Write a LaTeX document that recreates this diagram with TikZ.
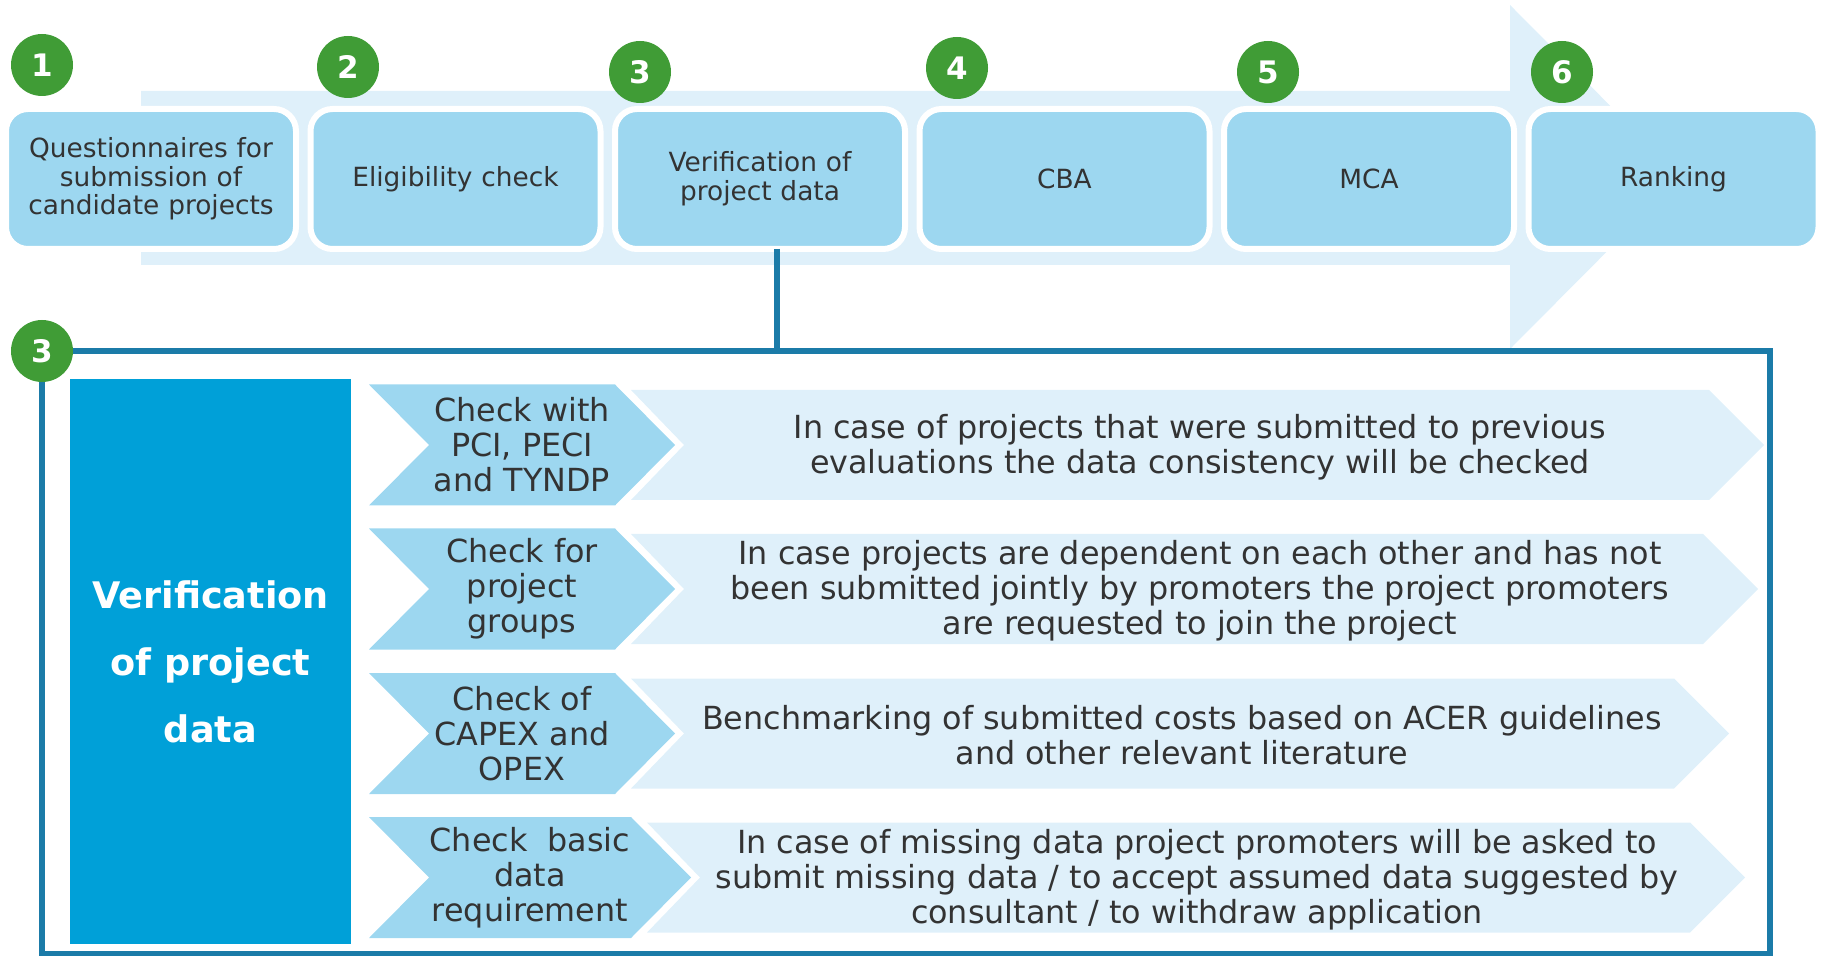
\documentclass[tikz,border=0pt]{standalone}
\usepackage{fontspec}
\setmainfont{DejaVu Sans}
\usepackage{tikz}
\usetikzlibrary{positioning}
\definecolor{stepblue}{HTML}{9DD7F0}
\definecolor{bandblue}{HTML}{DFF0FA}
\definecolor{darkblue}{HTML}{00A0D8}
\definecolor{framecol}{HTML}{1B7BA8}
\definecolor{numgreen}{HTML}{409C36}
\definecolor{txt}{HTML}{333333}
\tikzstyle{box} = [rectangle, rounded corners=11pt, fill=stepblue, draw=white, line width=3pt, outer sep=0pt, minimum width=145pt, minimum height=70pt, text width=130pt, align=center, text=txt, font=\fontsize{13.2}{14.3}\selectfont]
\tikzstyle{num} = [circle, fill=numgreen, minimum size=31pt, inner sep=0pt, text=white, font=\fontsize{15.5}{16}\selectfont\bfseries]
\tikzstyle{chev} = [fill=stepblue]
\tikzstyle{band} = [fill=bandblue]
\tikzstyle{chevtext} = [align=center, text=txt, font=\fontsize{15.9}{17.5}\selectfont]
\tikzstyle{desc} = [align=center, text=txt, yshift=-1pt, font=\fontsize{15.9}{17.5}\selectfont]
\tikzstyle{link} = [draw=framecol, line width=3pt]

\begin{document}
\begin{tikzpicture}[x=0.5pt,y=-0.5pt]
\useasboundingbox (0,0) rectangle (1825,956);
% process arrow behind the steps
\fill[band] (141,91) -- (1510,91) -- (1510,5) -- (1681,177) -- (1510,349) -- (1510,265) -- (141,265) -- cycle;
\node (b1) [box] at (151,179) {Questionnaires for\\submission of\\candidate projects};
\node (b2) [box, right=7.25pt of b1] {Eligibility check};
\node (b3) [box, right=7.25pt of b2] {Verification of\\project data};
\node (b4) [box, right=7.25pt of b3] {CBA};
\node (b5) [box, right=7.25pt of b4] {MCA};
\node (b6) [box, right=7.25pt of b5] {Ranking};
\node (n1) [num] at (42,65) {1};
\node (n2) [num] at (348,67) {2};
\node (n3) [num] at (640,72) {3};
\node (n4) [num] at (957,68) {4};
\node (n5) [num] at (1268,72) {5};
\node (n6) [num] at (1562,72) {6};
% detail of step 3
\node (frame) [draw=framecol, line width=3pt, outer sep=0pt, minimum width=864pt, minimum height=301.5pt, inner sep=0pt] at (906,652.5) {};
\coordinate (j) at (777,300);
\draw[link] (b3.south -| j) -- (frame.north -| j);
\node (n3b) [num] at (frame.north west) {3};
\node (main) [fill=darkblue, minimum width=140.5pt, minimum height=282.5pt, inner sep=0pt, text depth=0pt, align=center, text=white, font=\fontsize{18.3}{33.7}\selectfont\bfseries] at (210.5,661.5) {Verification\\of project\\data};
% light arrows
\fill[band] (631,390) -- (1709,390) -- (1764,445) -- (1709,500) -- (631,500) -- (684,445) -- cycle;
\fill[band] (631,534) -- (1703,534) -- (1758,589) -- (1703,644) -- (631,644) -- (684,589) -- cycle;
\fill[band] (631,678.5) -- (1674,678.5) -- (1729,733.5) -- (1674,788.5) -- (631,788.5) -- (684,733.5) -- cycle;
\fill[band] (647,822.5) -- (1690,822.5) -- (1745,877.5) -- (1690,932.5) -- (647,932.5) -- (700,877.5) -- cycle;
% chevrons
\fill[chev] (369,384.5) -- (615,384.5) -- (675,445) -- (615,505.5) -- (369,505.5) -- (429,445) -- cycle;
\fill[chev] (369,528.5) -- (615,528.5) -- (675,589) -- (615,649.5) -- (369,649.5) -- (429,589) -- cycle;
\fill[chev] (369,673) -- (615,673) -- (675,733.5) -- (615,794) -- (369,794) -- (429,733.5) -- cycle;
\fill[chev] (369,817) -- (631,817) -- (691,877.5) -- (631,938) -- (369,938) -- (429,877.5) -- cycle;
\node (c1) [chevtext] at (522,445) {Check with\\PCI, PECI\\and TYNDP};
\node (c2) [chevtext] at (522,589) {Check for\\project\\groups};
\node (c3) [chevtext] at (522,733.5) {Check of\\CAPEX and\\OPEX};
\node (c4) [chevtext] at (530,877.5) {Check~~basic\\data\\requirement};
\node (r1) [desc] at (1200,445) {In case of projects that were submitted to previous\\evaluations the data consistency will be checked};
\node (r2) [desc] at (1200,589) {In case projects are dependent on each other and has not\\been submitted jointly by promoters the project promoters\\are requested to join the project};
\node (r3) [desc] at (1182,733.5) {Benchmarking of submitted costs based on ACER guidelines\\and other relevant literature};
\node (r4) [desc] at (1197,877.5) {In case of missing data project promoters will be asked to\\submit missing data / to accept assumed data suggested by\\consultant / to withdraw application};
\end{tikzpicture}
\end{document}
